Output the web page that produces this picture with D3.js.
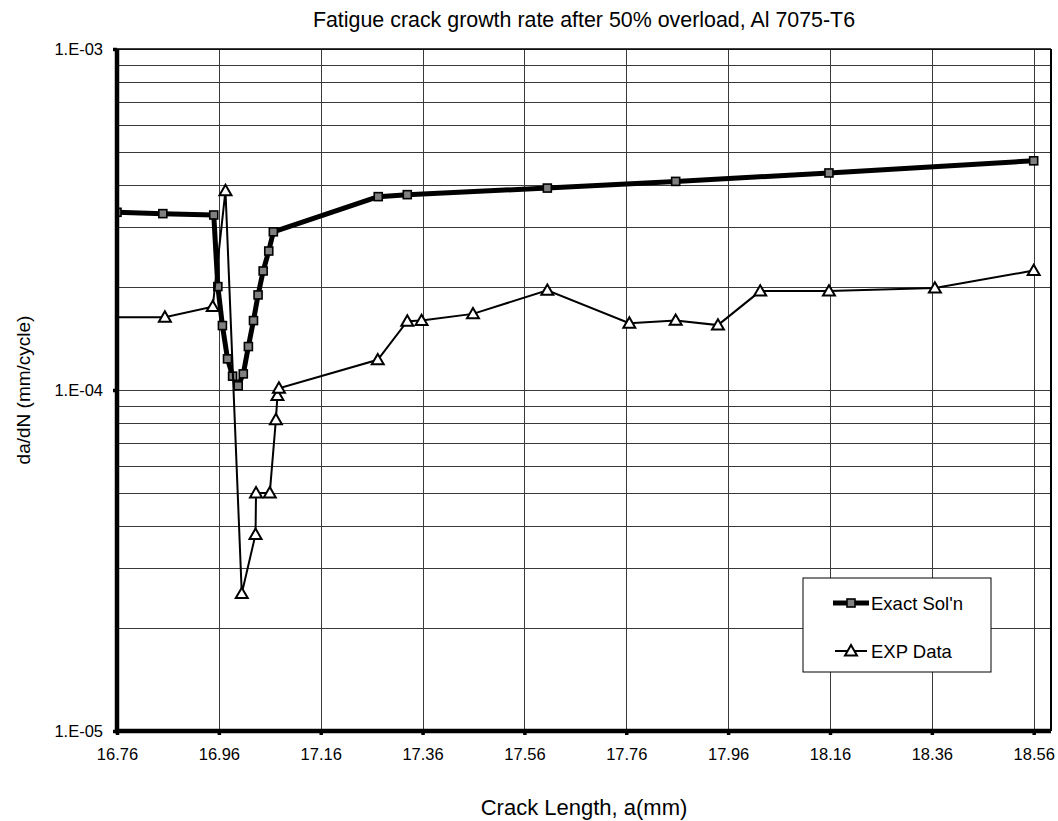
<!DOCTYPE html>
<html>
<head>
<meta charset="utf-8">
<script src="https://cdn.jsdelivr.net/npm/d3@7"></script>
<style>
  body { margin: 0; background: #fff; }
  svg text { font-family: "Liberation Sans", Arial, sans-serif; fill: #000; }
</style>
</head>
<body>
<svg id="chart" width="1058" height="821"></svg>
<script>
// Data
const exactX = [16.76, 16.85, 16.95, 16.958, 16.967, 16.977, 16.987, 16.998, 17.008, 17.018,
  17.028, 17.037, 17.047, 17.058, 17.067, 17.273, 17.33, 17.605, 17.857, 18.158, 18.56];
const exactY = [3.32e-4, 3.29e-4, 3.26e-4, 2.01e-4, 1.545e-4, 1.234e-4, 1.098e-4, 1.029e-4, 1.115e-4, 1.341e-4,
  1.598e-4, 1.90e-4, 2.234e-4, 2.556e-4, 2.91e-4, 3.69e-4, 3.74e-4, 3.91e-4, 4.09e-4, 4.33e-4, 4.70e-4];

const expX = [16.66, 16.854, 16.948, 16.973, 17.005, 17.032, 17.033, 17.06, 17.072, 17.075, 17.078,
  17.272, 17.33, 17.358, 17.459, 17.605, 17.766, 17.857, 17.94, 18.023, 18.158, 18.366, 18.56];
const expY = [1.634e-4, 1.634e-4, 1.756e-4, 3.84e-4, 2.53e-5, 3.77e-5, 4.99e-5, 4.99e-5, 8.18e-5, 9.63e-5, 1.012e-4,
  1.226e-4, 1.591e-4, 1.598e-4, 1.672e-4, 1.96e-4, 1.57e-4, 1.6e-4, 1.55e-4, 1.95e-4, 1.95e-4, 1.99e-4, 2.24e-4];

const xTicks = [16.76, 16.96, 17.16, 17.36, 17.56, 17.76, 17.96, 18.16, 18.36, 18.56];
const yTicks = [1e-5, 1e-4, 1e-3];
const seriesNames = ["Exact Sol'n", "EXP Data"];

const svg = d3.select("#chart");
const plotL = 117, plotR = 1051, plotT = 49, plotB = 731;

const x = d3.scaleLinear().domain([16.76, 18.594]).range([plotL, plotR]);
const y = d3.scaleLog().domain([1e-5, 1e-3]).range([plotB, plotT]);

// minor grid values 1..9 x decade
const gridY = [];
[1e-5, 1e-4].forEach((d) => {
  for (let k = 1; k <= 9; k++) gridY.push(d * k);
});
gridY.push(1e-3);

svg.append("defs").append("clipPath").attr("id", "plot-clip")
  .append("rect").attr("x", plotL).attr("y", plotT).attr("width", plotR - plotL).attr("height", plotB - plotT);

// Gridlines
const grid = svg.append("g").attr("stroke", "#3a3a3a").attr("stroke-width", 1).attr("shape-rendering", "crispEdges");
grid.selectAll(".hg").data(gridY).join("line")
  .attr("x1", plotL).attr("x2", plotR)
  .attr("y1", (d) => Math.round(y(d)) + 0.5).attr("y2", (d) => Math.round(y(d)) + 0.5);
grid.selectAll(".vg").data(xTicks).join("line")
  .attr("y1", plotT).attr("y2", plotB)
  .attr("x1", (d) => Math.round(x(d)) + 0.5).attr("x2", (d) => Math.round(x(d)) + 0.5);

// Series
const plot = svg.append("g").attr("clip-path", "url(#plot-clip)");
const exact = exactX.map((d, i) => [d, exactY[i]]);
const exp = expX.map((d, i) => [d, expY[i]]);
const line = d3.line().x((d) => x(d[0])).y((d) => y(d[1]));

plot.append("path").datum(exact).attr("d", line)
  .attr("fill", "none").attr("stroke", "#000").attr("stroke-width", 5).attr("stroke-linejoin", "round");
plot.selectAll(".sq").data(exact).join("rect")
  .attr("x", (d) => x(d[0]) - 4).attr("y", (d) => y(d[1]) - 4)
  .attr("width", 8).attr("height", 8)
  .attr("fill", "#808080").attr("stroke", "#000").attr("stroke-width", 1.6);

const tri = d3.symbol().type(d3.symbolTriangle).size(62);
plot.append("path").datum(exp).attr("d", line)
  .attr("fill", "none").attr("stroke", "#000").attr("stroke-width", 2);
plot.selectAll(".tri").data(exp).join("path")
  .attr("d", tri)
  .attr("transform", (d) => `translate(${x(d[0])},${y(d[1]) + 1})`)
  .attr("fill", "#fff").attr("stroke", "#000").attr("stroke-width", 2);

// Frame: thin top/right, thick left/bottom
svg.append("line").attr("x1", plotL).attr("x2", plotR).attr("y1", plotT).attr("y2", plotT)
  .attr("stroke", "#000").attr("stroke-width", 1.5);
svg.append("line").attr("x1", plotR).attr("x2", plotR).attr("y1", plotT).attr("y2", plotB)
  .attr("stroke", "#000").attr("stroke-width", 2);

// Axes
const xAxis = svg.append("g").attr("transform", `translate(0,${plotB})`)
  .call(d3.axisBottom(x).tickValues(xTicks).tickFormat(d3.format(".2f")).tickSize(4).tickPadding(13));
const yAxis = svg.append("g").attr("transform", `translate(${plotL},0)`)
  .call(d3.axisLeft(y).tickValues(yTicks).tickFormat((d) => "1.E-" + String(-Math.round(Math.log10(d))).padStart(2, "0")).tickSize(4).tickPadding(10));

[xAxis, yAxis].forEach((g) => {
  g.select(".domain").attr("stroke", "#000").attr("stroke-width", 4.5);
  g.selectAll(".tick line").attr("stroke", "#000").attr("stroke-width", 3.5);
  g.selectAll(".tick text").attr("font-size", 16.5).attr("font-family", "Liberation Sans, Arial, sans-serif");
});
xAxis.select(".domain").attr("d", `M${plotL - 2},0H${plotR}`);
yAxis.select(".domain").attr("d", `M0,${plotB + 2}V${plotT}`);

// Titles
svg.append("text").attr("x", 584).attr("y", 27).attr("text-anchor", "middle")
  .attr("font-size", 21.4).text("Fatigue crack growth rate after 50% overload, Al 7075-T6");
svg.append("text").attr("x", 584).attr("y", 815).attr("text-anchor", "middle")
  .attr("font-size", 22).text("Crack Length, a(mm)");
svg.append("text").attr("transform", "translate(30,390) rotate(-90)").attr("text-anchor", "middle")
  .attr("font-size", 19).text("da/dN (mm/cycle)");

// Legend
const lg = svg.append("g").attr("transform", "translate(803,578)");
lg.append("rect").attr("width", 188).attr("height", 94)
  .attr("fill", "#fff").attr("stroke", "#000").attr("stroke-width", 1);
const e1 = lg.append("g").attr("transform", "translate(0,25)");
e1.append("line").attr("x1", 30).attr("x2", 66).attr("stroke", "#000").attr("stroke-width", 5);
e1.append("rect").attr("x", 44).attr("y", -4).attr("width", 8).attr("height", 8)
  .attr("fill", "#808080").attr("stroke", "#000").attr("stroke-width", 1.6);
e1.append("text").attr("x", 68).attr("y", 7).attr("font-size", 18.5).text(seriesNames[0]);
const e2 = lg.append("g").attr("transform", "translate(0,73)");
e2.append("line").attr("x1", 32).attr("x2", 64).attr("stroke", "#000").attr("stroke-width", 2);
e2.append("path").attr("d", tri).attr("transform", "translate(48,1)")
  .attr("fill", "#fff").attr("stroke", "#000").attr("stroke-width", 2);
e2.append("text").attr("x", 68).attr("y", 7).attr("font-size", 18.5).text(seriesNames[1]);
</script>
</body>
</html>
